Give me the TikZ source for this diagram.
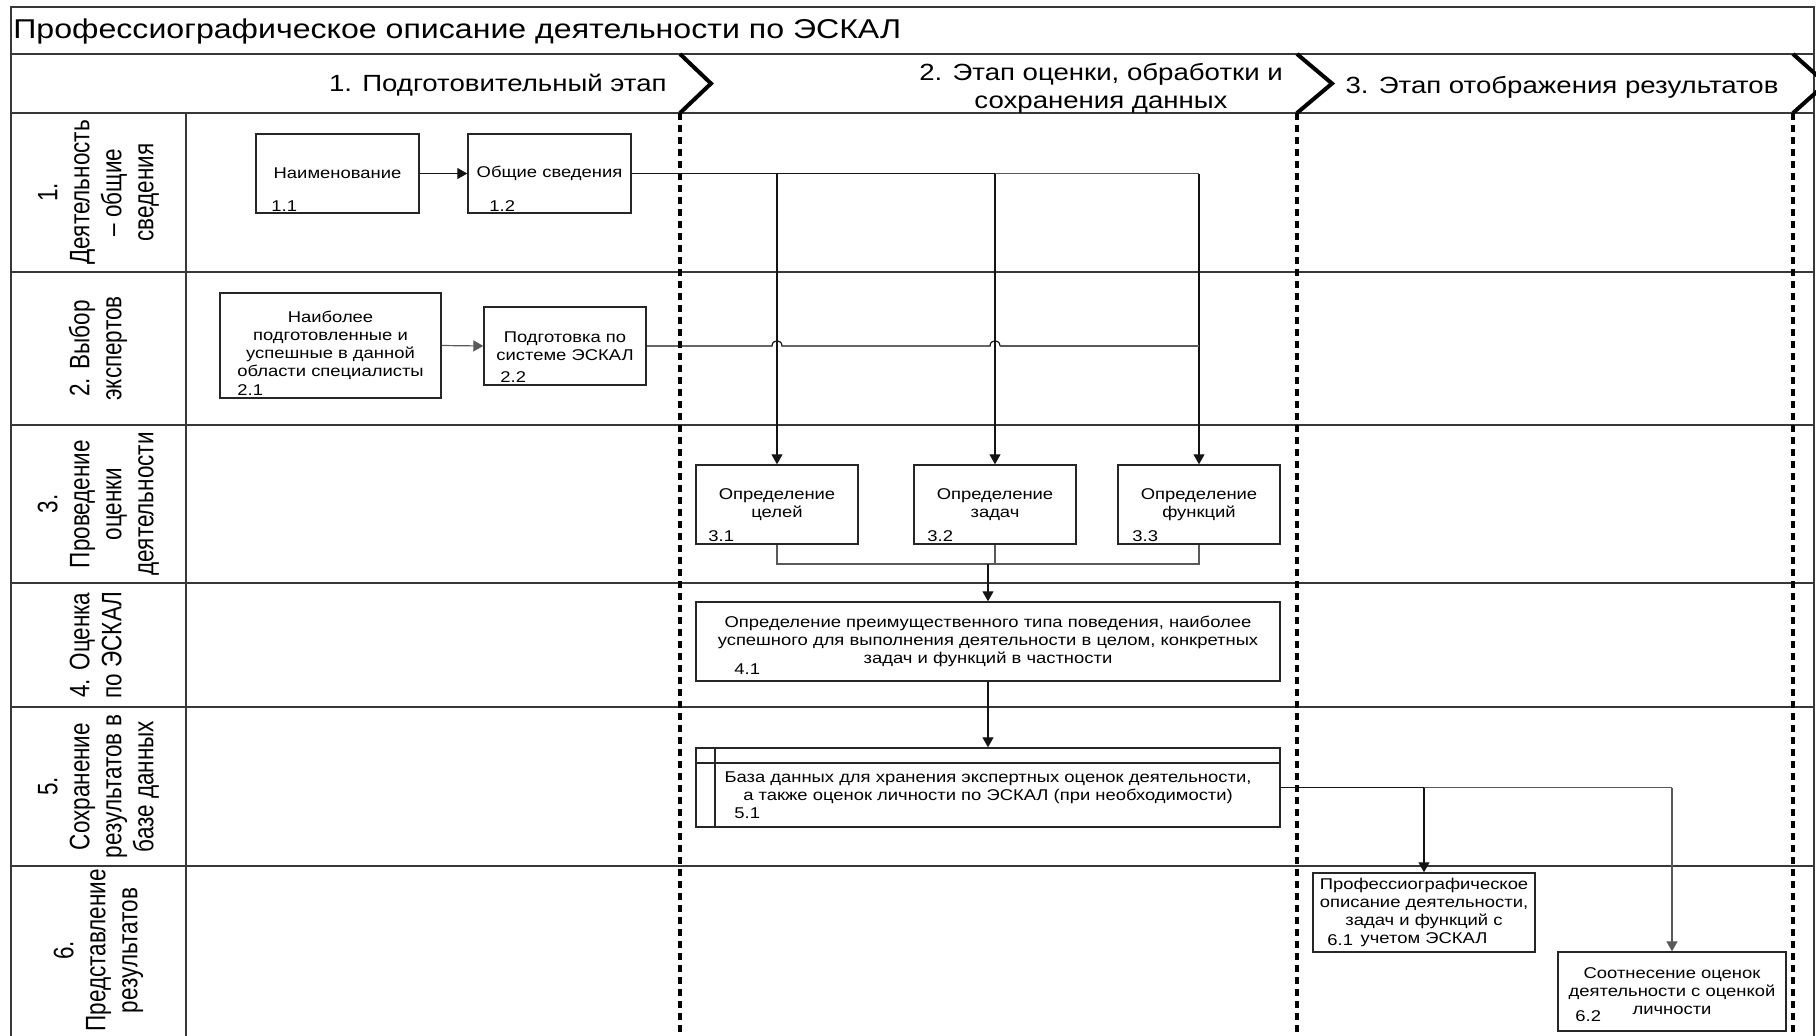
\documentclass[tikz,border=0pt]{standalone}
\usepackage{graphicx}
\usepackage{fontspec}
\setmainfont[FakeStretch=1.18]{Liberation Sans}
\newfontfamily\lanefont{Liberation Sans}
\usetikzlibrary{arrows.meta}

\begin{document}
\begin{tikzpicture}[x=0.5pt,y=-0.5pt,
  grid/.style={draw=black!78, line width=1pt},
  phaseedge/.style={draw=black, line width=2pt, line join=miter},
  phasesep/.style={draw=black, line width=2pt, dash pattern=on 3.4pt off 2.6pt},
  box/.style={draw=black!85, line width=0.7pt, fill=white, inner sep=0pt, align=center,
    font=\fontsize{7.8pt}{9pt}\selectfont},
  num/.style={anchor=base west, inner sep=0pt, font=\fontsize{7.8pt}{9pt}\selectfont},
  conn/.style={draw=black!92, line width=0.6pt},
  connl/.style={draw=black!65, line width=0.6pt},
  arr/.style={-{Triangle[length=5pt,width=5.5pt]}},
  lane/.style={rotate=90, inner sep=0pt},
  phase/.style={inner sep=0pt, align=center, font=\fontsize{11.7pt}{14pt}\selectfont}
]
\newcommand{\lanetext}[1]{\scalebox{1}[1.25]{\lanefont\fontsize{11.25pt}{12.8pt}\selectfont
  \begin{tabular}{@{}c@{}}#1\end{tabular}}}

\useasboundingbox (0,0) rectangle (1816,1035);
\clip (0,0) rectangle (1816,1035);

% frame, title band, phase header and swimlanes
\draw[grid] (11,7) rectangle (1814,1045);
\draw[grid] (11,54) -- (1814,54);
\draw[grid] (11,113) -- (1814,113);
\draw[grid] (186,113) -- (186,1045);
\foreach \yy in {272,425,583,707,866}
  \draw[grid] (11,\yy) -- (1814,\yy);

% phase separators
\draw[phasesep] (680,113) -- (680,1045);
\draw[phasesep] (1297,113) -- (1297,1045);
\draw[phasesep] (1793,113) -- (1793,1045);
\draw[phaseedge] (680,54) -- (711,83.5) -- (680,113);
\draw[phaseedge] (1297,54) -- (1332,83.5) -- (1297,113);
\draw[phaseedge] (1793,54) -- (1826,83.5) -- (1793,113);

% title and phase captions
\node[anchor=west, inner sep=0pt, font=\fontsize{13.6pt}{16pt}\selectfont] (title) at (13,31)
  {Профессиографическое описание деятельности по ЭСКАЛ};
\node[phase, anchor=east] (ph1) at (667,85) {1. Подготовительный этап};
\node[phase] (ph2) at (1101,88.5) {2. Этап оценки, обработки и\\сохранения данных};
\node[phase] (ph3) at (1562,87) {3. Этап отображения результатов};

% lane captions
\node[lane] (l1) at (99,192.5) {\lanetext{1.\\Деятельность\\– общие\\сведения}};
\node[lane] (l2) at (99,348.5) {\lanetext{2. Выбор\\экспертов}};
\node[lane] (l3) at (99,504) {\lanetext{3.\\Проведение\\оценки\\деятельности}};
\node[lane] (l4) at (99,645) {\lanetext{4. Оценка\\по ЭСКАЛ}};
\node[lane] (l5) at (99,786.5) {\lanetext{5.\\Сохранение\\результатов в\\базе данных}};
\node[lane] (l6) at (99,950.5) {\lanetext{6.\\Представление\\результатов}};

% process boxes
\node[box, minimum width=81.5pt, minimum height=39.5pt] (b11) at (337.5,173.5) {Наименование};
\node[box, minimum width=81.5pt, minimum height=39.5pt] (b12) at (549.5,173.5) {Общие сведения};
\node[box, minimum width=110.5pt, minimum height=52.5pt] (b21) at (330.5,345.5)
  {Наиболее\\подготовленные и\\успешные в данной\\области специалисты};
\node[box, minimum width=81pt, minimum height=39pt] (b22) at (565,346) {Подготовка по\\системе ЭСКАЛ};
\node[box, minimum width=81pt, minimum height=39.5pt] (b31) at (777,504.5) {Определение\\целей};
\node[box, minimum width=81pt, minimum height=39.5pt] (b32) at (995,504.5) {Определение\\задач};
\node[box, minimum width=81pt, minimum height=39.5pt] (b33) at (1199,504.5) {Определение\\функций};
\node[box, minimum width=292pt, minimum height=39.5pt] (b41) at (988,641.5)
  {Определение преимущественного типа поведения, наиболее\\успешного для выполнения деятельности в целом, конкретных\\задач и функций в частности};
\node[box, minimum width=292pt, minimum height=39.5pt] (b51) at (988,787.5)
  {База данных для хранения экспертных оценок деятельности,\\а также оценок личности по ЭСКАЛ (при необходимости)};
\draw[draw=black!85, line width=0.7pt] (b51.north west |- 0,763) -- (b51.north east |- 0,763);
\draw[draw=black!85, line width=0.7pt] (715,0 |- b51.north) -- (715,0 |- b51.south);
\node[box, minimum width=111pt, minimum height=39.5pt] (b61) at (1424,912.5)
  {Профессиографическое\\описание деятельности,\\задач и функций с\\учетом ЭСКАЛ};
\node[box, minimum width=114pt, minimum height=39.5pt] (b62) at (1672,991.5)
  {Соотнесение оценок\\деятельности с оценкой\\личности};

% box numbers
\node[num] (n11) at (271,211.5) {1.1};
\node[num] (n12) at (489,211.5) {1.2};
\node[num] (n21) at (237,395.5) {2.1};
\node[num] (n22) at (500,382.5) {2.2};
\node[num] (n31) at (708,541.5) {3.1};
\node[num] (n32) at (927,541.5) {3.2};
\node[num] (n33) at (1132,541.5) {3.3};
\node[num] (n41) at (734,674.5) {4.1};
\node[num] (n51) at (734,818.5) {5.1};
\node[num] (n61) at (1327,945.5) {6.1};
\node[num] (n62) at (1575,1021.5) {6.2};

% connectors
\draw[conn,arr] (b11.east) -- (b12.west);
\draw[connl,arr] (b21.east) -- (b22.west);

\draw[conn] (b12.east) -- (b32.north |- b12.east);
\draw[connl] (b32.north |- b12.east) -- (b33.north |- b12.east);
\draw[conn,arr] (b31.north |- b12.east) -- (b31.north);
\draw[conn,arr] (b32.north |- b12.east) -- (b32.north);
\draw[conn,arr] (b33.north |- b12.east) -- (b33.north);

\coordinate (h1) at (772,346);
\coordinate (h2) at (990,346);
\draw[conn] (b22.east) -- (h1) .. controls (772,339) and (782,339) .. (782,346)
  -- (h2) .. controls (990,339) and (1000,339) .. (1000,346);
\draw[connl] (1000,346) -- (b33.north |- b22.east);

\coordinate (j3) at (988,564);
\draw[connl] (b31.south) |- (b33.south |- j3) -- (b33.south);
\draw[connl] (b32.south) -- (b32.south |- j3);
\draw[conn,arr] (j3) -- (b41.north);
\draw[conn,arr] (b41.south) -- (b51.north);

\draw[conn] (b51.east) -- (b61.north |- b51.east);
\draw[connl] (b61.north |- b51.east) -- (b62.north |- b51.east);
\draw[conn,arr] (b61.north |- b51.east) -- (b61.north);
\draw[connl,arr] (b62.north |- b51.east) -- (b62.north);
\end{tikzpicture}
\end{document}
